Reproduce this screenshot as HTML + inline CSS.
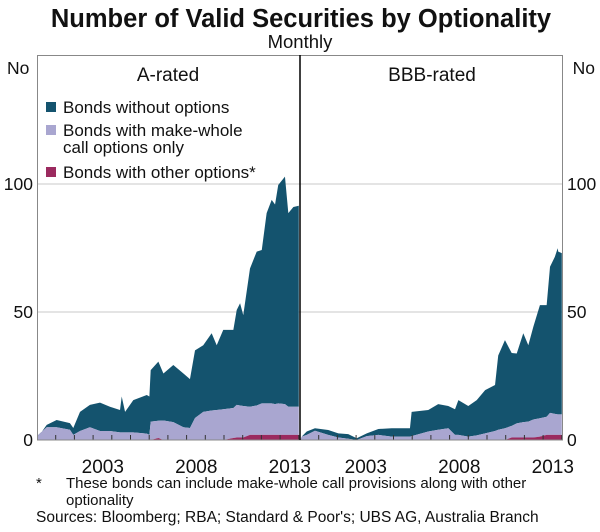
<!DOCTYPE html>
<html><head><meta charset="utf-8"><style>
body{margin:0;background:#fff;}
svg text{font-family:"Liberation Sans",Arial,sans-serif;fill:#111;}
</style></head><body>
<svg id="c" width="600" height="527" viewBox="0 0 600 527" xmlns="http://www.w3.org/2000/svg">
<text x="301" y="27" text-anchor="middle" font-size="25.5" font-weight="bold">Number of Valid Securities by Optionality</text>
<text x="300" y="48" text-anchor="middle" font-size="18.5">Monthly</text>
<g id="plot"></g>
<text x="7" y="74" font-size="17.5">No</text>
<text x="595" y="74" text-anchor="end" font-size="17.5">No</text>
<text x="168" y="81" text-anchor="middle" font-size="19">A-rated</text>
<text x="432" y="81" text-anchor="middle" font-size="19">BBB-rated</text>
<g>
<rect x="46" y="102" width="10" height="10" fill="#14536e"/>
<text x="63" y="113" font-size="17">Bonds without options</text>
<rect x="46" y="125" width="10" height="10" fill="#a9a6d0"/>
<text x="63" y="136" font-size="17">Bonds with make-whole</text>
<text x="63" y="153" font-size="17">call options only</text>
<rect x="46" y="167" width="10" height="10" fill="#9b2a5f"/>
<text x="63" y="178" font-size="17">Bonds with other options*</text>
</g>
<text x="36" y="488" font-size="15">*</text>
<text x="66" y="488" font-size="15">These bonds can include make-whole call provisions along with other</text>
<text x="66" y="505" font-size="15">optionality</text>
<text x="36" y="522" font-size="15.5">Sources: Bloomberg; RBA; Standard &amp; Poor's; UBS AG, Australia Branch</text>
</svg>
<script>
const aDates=[1999.0,1999.07,1999.52,2000.05,2000.76,2000.94,2001.30,2001.83,2002.37,2002.90,2003.44,2003.53,2003.71,2004.15,2004.87,2005.01,2005.08,2005.49,2005.76,2006.29,2006.83,2007.18,2007.45,2007.89,2008.34,2008.61,2008.96,2009.50,2009.68,2009.86,2010.03,2010.39,2010.75,2011.02,2011.28,2011.55,2011.73,2011.90,2012.26,2012.44,2012.71,2013.0];
const aTotal=[0,1.3,5.9,7.8,6.6,4.7,11,13.7,14.6,13,11.7,17,11,15.6,17.6,17,27.3,30.6,26,29.3,26,23.8,35,37,41.7,37,43,43,50.8,53.4,48.8,67,73.6,74.2,88.6,93.8,92,99.6,102.9,88.6,91,91.5];
const aLightTop=[0,2,5,5,4,2,3.5,5,3.5,3.5,3,3,3,3,2.5,2,7.2,7.5,7.6,7,5,4.7,8.6,11,11.5,11.7,12,12.5,13.7,13.5,13.3,13,13.5,14.3,14.3,14.3,14,14.3,14,13,13,13];
const aOther=[0,0,0,0,0,0,0,0,0,0,0,0,0,0,0,0,0,0.8,0,0,0,0,0,0,0,0,0,0.8,1,1,1,2,2,2,2,2,2,2,2,2,2,2];
const bDates=[1999.0,1999.09,1999.36,1999.8,2000.51,2001.05,2001.58,2002.03,2002.57,2003.19,2003.9,2004.88,2004.97,2005.86,2006.39,2006.93,2007.29,2007.47,2008.0,2008.45,2008.9,2009.43,2009.6,2009.96,2010.32,2010.59,2010.94,2011.21,2011.48,2011.83,2012.19,2012.37,2012.63,2012.78,2012.81,2013.0];
const bTotal=[0,1.3,3.3,4.6,3.9,2.6,2.3,0.7,2.6,4.3,4.6,4.6,11,11.7,14,13.3,12,15.6,13.3,15.6,19.5,21.5,33,39,34,33.8,41.7,37,44.3,52.7,52.7,67.7,71.6,74.9,73.6,73];
const bLightTop=[0,1.3,2,3.6,2,1,0.5,0,1.5,2,1.3,1.3,1.5,3.3,4,4.6,2,2,1.3,1.8,2.6,3.5,4,4.6,5.5,6.5,7,7.2,8,8.5,9.1,10.6,10.2,10,10,10];
const bOther=[0,0,0,0,0,0,0,0,0,0,0,0,0,0,0,0,0,0,0,0,0,0,0,0,1,1,1,1,1,1.3,2,2,2,2,2,2];
const yTicks=[0,50,100];
const xLabels=[2003,2008,2013];

const NS="http://www.w3.org/2000/svg";
const g=document.getElementById('plot');
const Y0=440, PXV=2.56, PXY=18.7;
const y=v=>Y0-v*PXV;
function mk(t,a){const e=document.createElementNS(NS,t);for(const k in a)e.setAttribute(k,a[k]);g.appendChild(e);return e;}
for(const t of yTicks){
 if(t!==0){
  const l=mk('line',{x1:38,x2:563,y1:y(t),y2:y(t),stroke:'#c8c8c8','stroke-width':1});
  
  
 }
 const a=mk('text',{x:33,y:y(t)+6,'text-anchor':'end','font-size':17.5});a.textContent=t;
 
 
 const b=mk('text',{x:567,y:y(t)+6,'font-size':17.5});b.textContent=t;
 
 
}
function area(xs,lo,hi,fill,name){
 let d='M'+xs[0]+','+y(hi[0]);
 for(let i=1;i<xs.length;i++)d+=' L'+xs[i]+','+y(hi[i]);
 for(let i=xs.length-1;i>=0;i--)d+=' L'+xs[i]+','+y(lo[i]);
 const p=mk('path',{d:d+'Z',fill:fill});
 
 
}
function panel(x0,dates,total,light,other,pfx){
 const xs=dates.map(d=>Math.min(x0+262,x0+(d-1999)*PXY));
 const z=dates.map(()=>0);
 area(xs,light,total,'#14536e',pfx+'-area-no-options');
 area(xs,other,light,'#a9a6d0',pfx+'-area-make-whole');
 area(xs,z,other,'#9b2a5f',pfx+'-area-other-options');
 for(let yr=2000;yr<=2013;yr++){
  const tx=x0+(yr-1999)*PXY;
  const t=mk('line',{x1:tx,x2:tx,y1:Y0,y2:Y0-5,stroke:'#333','stroke-width':1});
  
  
 }
 for(const yr of xLabels){
  const tx=x0+(yr-1999)*PXY-9;
  const t=mk('text',{x:tx,y:473,'text-anchor':'middle','font-size':19});t.textContent=yr;
  
  
 }
}
panel(37,aDates,aTotal,aLightTop,aOther,'a-rated');
panel(300,bDates,bTotal,bLightTop,bOther,'bbb-rated');
const fr=mk('rect',{x:37.5,y:55.5,width:525,height:384.5,fill:'none',stroke:'#888','stroke-width':1});


const dv=mk('line',{x1:300,x2:300,y1:55,y2:440,stroke:'#000','stroke-width':1.5});


</script>
</body></html>
